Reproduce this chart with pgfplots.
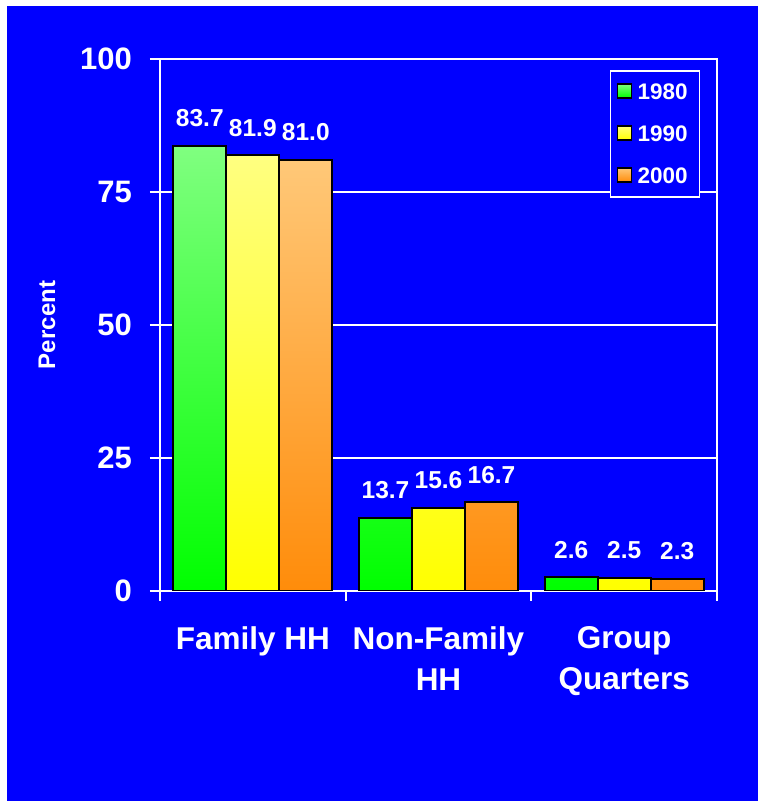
\documentclass[border=0pt]{standalone}
\usepackage{fontspec}
\setmainfont{Liberation Sans}
\usepackage{pgfplots}
\pgfplotsset{compat=1.18}
\definecolor{bgblue}{RGB}{0,0,255}
\definecolor{gtop}{RGB}{128,255,128}
\definecolor{gbot}{RGB}{0,255,0}
\definecolor{ytop}{RGB}{255,255,128}
\definecolor{ybot}{RGB}{255,255,0}
\definecolor{otop}{RGB}{255,200,120}
\definecolor{obot}{RGB}{255,140,10}
\begin{document}
\begin{tikzpicture}[x=1pt,y=1pt]
\fill[white] (0,0) rectangle (758,801);
\fill[bgblue] (7,0) rectangle (758,795);
\path[use as bounding box] (0,0) rectangle (758,801);
\begin{axis}[
  at={(160pt,210pt)}, anchor=south west,
  scale only axis, width=557pt, height=532pt,
  xmin=-0.5, xmax=2.5, ymin=0, ymax=100,
  ybar=0pt, bar width=0.2855,
  axis line style={white, line width=2pt},
  ytick={0,25,50,75,100},
  ymajorgrids, grid style={white, line width=2pt},
  tick align=outside, major tick length=10pt,
  xtick pos=bottom, ytick pos=left,
  tick style={white, line width=2pt},
  xtick={-0.5,0.5,1.5,2.5}, xticklabels={},
  extra x ticks={0,1,2},
  extra x tick labels={Family HH, {Non-Family\\HH}, {Group\\Quarters}},
  extra x tick style={major tick length=0pt, grid=none,
     xticklabel style={align=center, anchor=north, inner sep=0pt, yshift=-35pt,
        font=\fontsize{31.5}{41}\selectfont\bfseries, text=white}},
  /pgf/number format/assume math mode=true,
  yticklabel style={font=\fontsize{31}{36}\selectfont\bfseries, text=white, anchor=east, inner sep=0pt, xshift=-18pt},
  ylabel={Percent},
  every axis y label/.style={at={(axis description cs:-0.203,0.5)}, anchor=center, rotate=90,
     font=\fontsize{24}{28}\selectfont\bfseries, text=white},
  nodes near coords={\pgfmathprintnumber[fixed,fixed zerofill,precision=1]{\pgfplotspointmeta}},
  every node near coord/.append style={text=white, font=\fontsize{24.5}{28}\selectfont\bfseries,
     anchor=south, inner sep=0pt, yshift=18pt},
  legend style={at={(0.9695,0.9793)}, anchor=north east, draw=white, line width=1.5pt,
     fill=bgblue, text=white, font=\fontsize{22.5}{27}\selectfont\bfseries,
     inner xsep=6pt, inner ysep=9pt, row sep=18pt,
     nodes={inner xsep=5.5pt, inner ysep=4pt, text height=16pt, text depth=0pt}},
  legend cell align=left,
  every axis plot post/.append style={legend image code/.code={\draw[##1, line width=1.6pt] (0pt,-6pt) rectangle (14pt,8pt);}},
]
\addplot[draw=black, line width=1.8pt, top color=gtop, bottom color=gbot] coordinates {(0,83.7) (1,13.7) (2,2.6)};
\addplot[draw=black, line width=1.8pt, top color=ytop, bottom color=ybot] coordinates {(0,81.9) (1,15.6) (2,2.5)};
\addplot[draw=black, line width=1.8pt, top color=otop, bottom color=obot] coordinates {(0,81.0) (1,16.7) (2,2.3)};
\legend{1980,1990,2000}
\end{axis}
\end{tikzpicture}
\end{document}
